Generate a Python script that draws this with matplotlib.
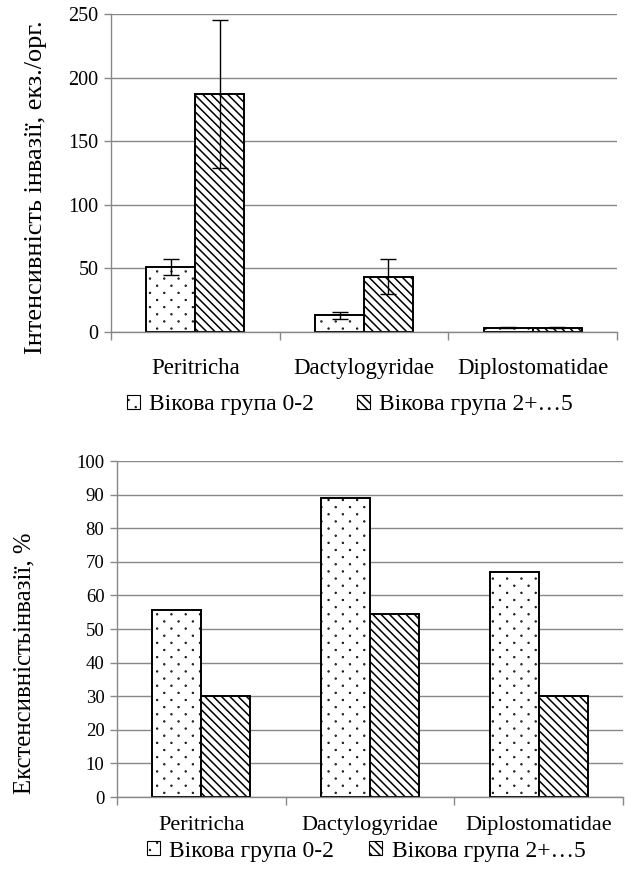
import numpy as np
import matplotlib
matplotlib.use("Agg")
import matplotlib.pyplot as plt
import matplotlib.hatch as mhatch
from matplotlib.path import Path
from matplotlib.patches import Patch

# ---------------- data ----------------
categories = ["Peritricha", "Dactylogyridae", "Diplostomatidae"]
series_names = ["Вікова група 0-2", "Вікова група 2+…5"]

intensity_young = [51, 13, 3.5]
intensity_young_err = [6, 2.5, 0.5]
intensity_old = [187, 43.5, 3.5]
intensity_old_err = [58, 13.5, 0.5]

extensity_young = [55.6, 88.9, 67.1]
extensity_old = [30.0, 54.6, 30.0]

top_yticks = [0, 50, 100, 150, 200, 250]
bottom_yticks = [0, 10, 20, 30, 40, 50, 60, 70, 80, 90, 100]

top_ylabel = "Інтенсивність інвазії, екз./орг."
bottom_ylabel = "Екстенсивністьінвазії, %"


# ------------- sparse staggered dot hatch (replaces '.') -------------
class DiamondDots(mhatch.HatchPatternBase):
    def __init__(self, hatch, density):
        n = hatch.count('.')
        circ = Path.unit_circle()
        self.shape_vertices = circ.vertices
        self.shape_codes = circ.codes
        self.pts = []
        if n:
            ncols, nrows = 7, 14
            for r in range(nrows + 1):
                y = r / nrows
                if r % 2 == 0:
                    xs = np.arange(ncols + 1) / ncols
                else:
                    xs = (np.arange(ncols) + 0.5) / ncols
                for x in xs:
                    self.pts.append((x, y))
        self.num_vertices = len(self.pts) * len(self.shape_vertices)

    def set_vertices_and_codes(self, vertices, codes):
        nv = len(self.shape_vertices)
        rad = 0.004
        c = 0
        for (x, y) in self.pts:
            vertices[c:c + nv] = self.shape_vertices * rad + np.array([x, y])
            codes[c:c + nv] = self.shape_codes
            c += nv


mhatch._hatch_types = [h for h in mhatch._hatch_types
                       if h.__name__ not in ("SmallFilledCircles", "SmallCircles")]
mhatch._hatch_types.append(DiamondDots)

plt.rcParams['font.family'] = ['Liberation Serif', 'DejaVu Serif']
plt.rcParams['hatch.linewidth'] = 1.1
plt.rcParams['hatch.color'] = 'black'

W, H, DPI = 633, 884, 100
fig = plt.figure(figsize=(W / DPI, H / DPI), dpi=DPI)

GRID = '#888888'
bw = 0.29
x = np.arange(len(categories))


def style_axes(ax, yticks, yfs, xfs, xpad):
    ax.set_xlim(-0.5, len(categories) - 0.5)
    ax.set_ylim(yticks[0], yticks[-1])
    ax.set_yticks(yticks)
    ax.set_yticklabels([str(t) for t in yticks], fontsize=yfs)
    ax.yaxis.grid(True, color=GRID, linewidth=1.0)
    ax.set_axisbelow(True)
    for s in ['top', 'right']:
        ax.spines[s].set_visible(False)
    for s in ['left', 'bottom']:
        ax.spines[s].set_color(GRID)
        ax.spines[s].set_linewidth(1.0)
    ax.tick_params(axis='y', colors=GRID, labelcolor='black', length=5, width=1.0, pad=4)
    ax.set_xticks(x)
    ax.set_xticklabels(categories, fontsize=xfs)
    ax.tick_params(axis='x', which='major', length=0, pad=xpad, labelcolor='black')
    ax.set_xticks(np.arange(-0.5, len(categories), 1.0), minor=True)
    ax.tick_params(axis='x', which='minor', length=6, width=1.0, colors=GRID)


# ---------------- top chart ----------------
ax1 = fig.add_axes([111 / W, 1 - 332 / H, (617 - 111) / W, (332 - 14) / H])
ax1.bar(x - bw / 2, intensity_young, bw, color='white', edgecolor='black',
        linewidth=1.4, hatch='.', zorder=2)
ax1.bar(x + bw / 2, intensity_old, bw, color='white', edgecolor='black',
        linewidth=1.4, hatch='\\\\\\\\', zorder=2)
ax1.errorbar(x - bw / 2, intensity_young, yerr=intensity_young_err, fmt='none',
             ecolor='black', elinewidth=1.0, capsize=5.5, capthick=1.0, zorder=3)
ax1.errorbar(x + bw / 2, intensity_old, yerr=intensity_old_err, fmt='none',
             ecolor='black', elinewidth=1.0, capsize=5.5, capthick=1.0, zorder=3)
style_axes(ax1, top_yticks, 14.5, 16.5, 19)

# ---------------- bottom chart ----------------
ax2 = fig.add_axes([117 / W, 1 - 797 / H, (623 - 117) / W, (797 - 461) / H])
ax2.bar(x - bw / 2, extensity_young, bw, color='white', edgecolor='black',
        linewidth=1.4, hatch='.', zorder=2)
ax2.bar(x + bw / 2, extensity_old, bw, color='white', edgecolor='black',
        linewidth=1.4, hatch='\\\\\\\\', zorder=2)
style_axes(ax2, bottom_yticks, 13.5, 16, 14)

# ---------------- y labels ----------------
fig.text(36 / W, 1 - 187 / H, top_ylabel, rotation=90, ha='center', va='center', fontsize=18.9)
fig.text(24 / W, 1 - 663 / H, bottom_ylabel, rotation=90, ha='center', va='center', fontsize=17.8)

# ---------------- legends ----------------
def legend_handles():
    return [Patch(facecolor='white', edgecolor='black', linewidth=0.8, hatch='.'),
            Patch(facecolor='white', edgecolor='black', linewidth=0.8, hatch='\\\\\\\\')]


for yc, xc, cs in ((405, 350, 1.8), (851, 366, 1.5)):
    fig.legend(legend_handles(), series_names, loc='center',
               bbox_to_anchor=(xc / W, 1 - yc / H), ncol=2, frameon=False,
               fontsize=17, handlelength=0.55, handleheight=0.55,
               handletextpad=0.4, columnspacing=cs, borderpad=0)

fig.savefig("out.png", dpi=DPI)
